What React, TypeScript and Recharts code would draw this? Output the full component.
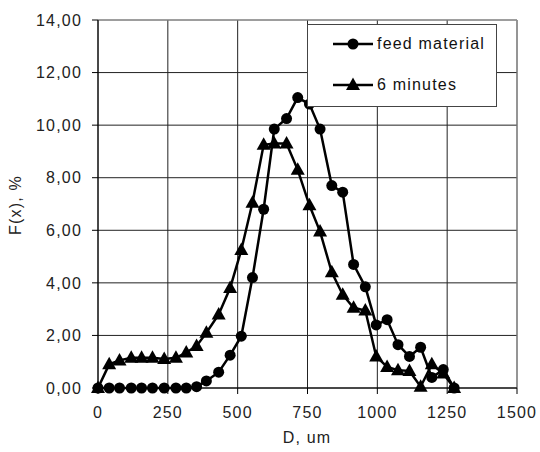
import React from "react";
import {
  LineChart,
  Line,
  XAxis,
  YAxis,
  CartesianGrid,
  Legend,
  ReferenceLine,
} from "recharts";

// particle size, um
const sizes = [
  0, 40, 77, 119, 156, 195, 237, 279, 316, 353, 388, 432, 473, 513, 553, 593,
  631, 675, 715, 757, 795, 837, 876, 915, 957, 996, 1035, 1074, 1115, 1155,
  1195, 1236, 1275,
];
const feedMaterial = [
  0, 0, 0, 0, 0, 0, 0, 0, 0, 0.05, 0.27, 0.6, 1.25, 1.97, 4.2, 6.8, 9.85,
  10.25, 11.05, 10.8, 9.85, 7.7, 7.45, 4.7, 3.85, 2.4, 2.6, 1.65, 1.2, 1.55,
  0.4, 0.7, 0,
];
const sixMinutes = [
  0, 0.9, 1.05, 1.15, 1.15, 1.15, 1.1, 1.15, 1.35, 1.6, 2.1, 2.8, 3.8, 5.25,
  7.05, 9.25, 9.3, 9.3, 8.3, 6.95, 5.95, 4.4, 3.55, 3.05, 2.95, 1.2, 0.8, 0.68,
  0.65, 0.05, 0.9, 0.55, 0,
];
const seriesNames = ["feed material", "6 minutes"];
const xTicks = [0, 250, 500, 750, 1000, 1250, 1500];
const yTicks = [0, 2, 4, 6, 8, 10, 12, 14];

const data = sizes.map((d, i) => ({
  d,
  feed: feedMaterial[i],
  six: sixMinutes[i],
}));

const FONT = '"Liberation Sans", Arial, sans-serif';
const tickStyle = { fontFamily: FONT, fontSize: 16, fill: "#222", letterSpacing: 1.2 };

const CircleDot = (props: any) => {
  const { cx, cy, key } = props;
  if (cx == null || cy == null) return null;
  return <circle key={key} cx={cx} cy={cy} r={5.5} fill="#000" />;
};

const TriangleDot = (props: any) => {
  const { cx, cy, key } = props;
  if (cx == null || cy == null) return null;
  return (
    <polygon
      key={key}
      points={`${cx},${cy - 7.5} ${cx - 7},${cy + 5} ${cx + 7},${cy + 5}`}
      fill="#000"
    />
  );
};

const YLabel = () => (
  <text
    x={21}
    y={205}
    transform="rotate(-90 21 205)"
    textAnchor="middle"
    style={{ fontFamily: FONT, fontSize: 16, fill: "#222", letterSpacing: 1.2 }}
  >
    F(x), %
  </text>
);

const XLabel = () => (
  <text
    x={307}
    y={443}
    textAnchor="middle"
    style={{ fontFamily: FONT, fontSize: 16, fill: "#222", letterSpacing: 1.2 }}
  >
    D, um
  </text>
);

const LegendBox = () => (
  <div
    style={{
      width: 190,
      height: 83,
      boxSizing: "border-box",
      border: "1px solid #444",
      background: "#fff",
      position: "relative",
      fontFamily: FONT,
      fontSize: 16,
      letterSpacing: 1.2,
      color: "#111",
    }}
  >
    {seriesNames.map((name, i) => (
      <div
        key={name}
        style={{
          position: "absolute",
          left: 25,
          top: i === 0 ? 9 : 50,
          height: 20,
          display: "flex",
          alignItems: "center",
          whiteSpace: "nowrap",
        }}
      >
        <svg width={40} height={20}>
          <line x1={0} y1={10} x2={40} y2={10} stroke="#000" strokeWidth={2.5} />
          {i === 0 ? (
            <circle cx={20} cy={10} r={5.5} fill="#000" />
          ) : (
            <polygon points="20,2.5 13,15 27,15" fill="#000" />
          )}
        </svg>
        <span style={{ marginLeft: 4 }}>{name}</span>
      </div>
    ))}
  </div>
);

export default function App() {
  return (
    <div style={{ position: "absolute", left: 0, top: 0, background: "#fff" }}>
      <LineChart
        width={540}
        height={452}
        data={data}
        margin={{ top: 20, right: 23, bottom: 0, left: 0 }}
      >
        <CartesianGrid stroke="#222" strokeWidth={1} />
        <XAxis
          dataKey="d"
          type="number"
          domain={[0, 1500]}
          ticks={xTicks}
          height={64}
          stroke="#000"
          tickSize={6}
          tickMargin={13}
          tick={tickStyle}
          interval={0}
          label={XLabel}
        />
        <YAxis
          type="number"
          domain={[0, 14]}
          ticks={yTicks}
          width={98}
          stroke="#000"
          tickSize={6}
          tickMargin={10}
          tick={tickStyle}
          interval={0}
          tickFormatter={(v: number) => v.toFixed(2).replace(".", ",")}
          label={YLabel}
        />
        <ReferenceLine y={14} stroke="#aaa" strokeWidth={1} />
        <ReferenceLine x={1500} stroke="#999" strokeWidth={1} />
        <Line
          name={seriesNames[0]}
          dataKey="feed"
          type="linear"
          stroke="#000"
          strokeWidth={2.5}
          dot={CircleDot}
          activeDot={false}
          isAnimationActive={false}
        />
        <Line
          name={seriesNames[1]}
          dataKey="six"
          type="linear"
          stroke="#000"
          strokeWidth={2.5}
          dot={TriangleDot}
          activeDot={false}
          isAnimationActive={false}
        />
        <Legend
          layout="vertical"
          align="center"
          verticalAlign="middle"
          content={LegendBox}
          wrapperStyle={{ left: 307, top: 24, width: 190, height: 83 }}
        />
      </LineChart>
    </div>
  );
}
